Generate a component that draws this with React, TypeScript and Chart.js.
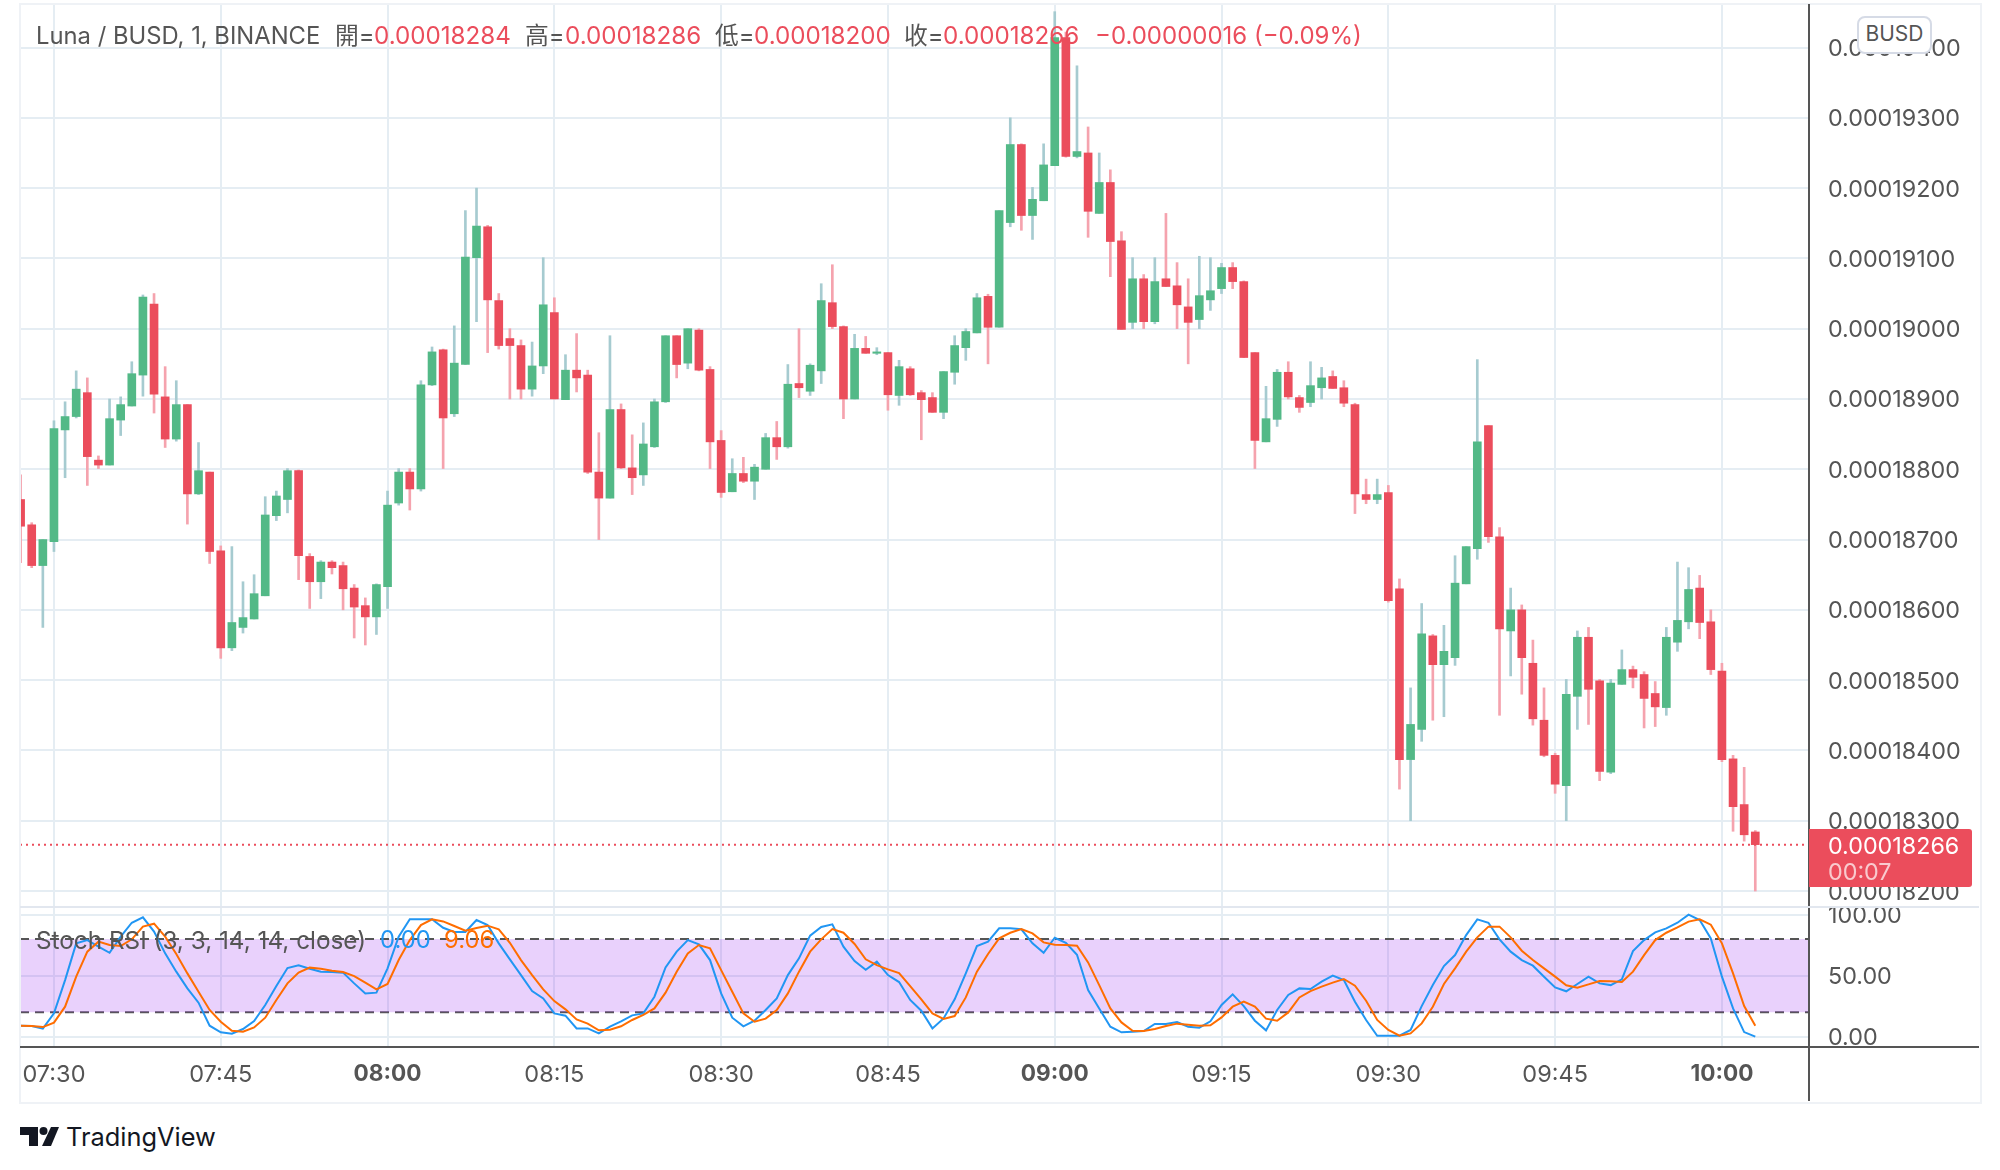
import { useEffect, useRef } from "react"
import { Chart, registerables } from "chart.js"

Chart.register(...registerables)

// prices are in units of 0.00000001 BUSD, one candle per minute from 07:27
const opens = [
  18757, 18721, 18663, 18697, 18856, 18875, 18909, 18813, 18806, 18870,
  18890, 18934, 19035, 18903, 18843, 18892, 18765, 18796, 18684, 18546,
  18575, 18587, 18620, 18734, 18757, 18798, 18676, 18640, 18668, 18663,
  18631, 18606, 18590, 18633, 18752, 18796, 18772, 18920, 18970, 18879,
  18949, 19101, 19145, 19040, 18986, 18976, 18914, 18947, 19023, 18899,
  18941, 18934, 18796, 18759, 18885, 18802, 18792, 18832, 18896, 18990,
  18951, 18998, 18942, 18841, 18768, 18794, 18783, 18800, 18845, 18832,
  18922, 18911, 18940, 19037, 19003, 18900, 18972, 18965, 18966, 18905,
  18943, 18909, 18902, 18881, 18938, 18973, 18994, 19046, 19002, 19151,
  19262, 19161, 19182, 19232, 19414, 19245, 19250, 19164, 19208, 19125,
  19009, 19071, 19010, 19071, 19061, 19031, 19013, 19041, 19057, 19087,
  19067, 18966, 18839, 18871, 18938, 18902, 18895, 18916, 18932, 18916,
  18892, 18764, 18757, 18767, 18630, 18387, 18430, 18563, 18522, 18532,
  18637, 18687, 18862, 18704, 18570, 18600, 18524, 18443, 18393, 18350,
  18477, 18561, 18499, 18369, 18494, 18515, 18508, 18481, 18461, 18554,
  18583, 18631, 18583, 18513, 18388, 18323, 18284,
]
const highs = [
  18792, 18724, 18700, 18869, 18896, 18940, 18930, 18819, 18900, 18903,
  18953, 19048, 19050, 18946, 18926, 18892, 18838, 18796, 18691, 18690,
  18640, 18650, 18761, 18769, 18801, 18799, 18680, 18670, 18670, 18668,
  18636, 18617, 18637, 18769, 18801, 18801, 18926, 18974, 18971, 19004,
  19168, 19200, 19147, 19050, 19000, 18984, 18981, 19101, 19044, 18963,
  18993, 18941, 18852, 18990, 18893, 18849, 18866, 18900, 18990, 18990,
  19000, 19000, 18946, 18855, 18815, 18817, 18807, 18851, 18868, 18949,
  19000, 18950, 19064, 19091, 19004, 18992, 18989, 18973, 18966, 18955,
  18946, 18912, 18909, 18939, 18990, 19000, 19050, 19049, 19168, 19300,
  19263, 19201, 19263, 19451, 19422, 19374, 19287, 19250, 19226, 19138,
  19101, 19077, 19101, 19164, 19094, 19071, 19103, 19101, 19093, 19094,
  19068, 18966, 18918, 18942, 18953, 18905, 18953, 18945, 18940, 18926,
  18894, 18786, 18786, 18777, 18644, 18489, 18609, 18565, 18578, 18677,
  18690, 18956, 18862, 18717, 18631, 18607, 18557, 18489, 18396, 18501,
  18570, 18575, 18501, 18501, 18543, 18520, 18512, 18498, 18575, 18668,
  18660, 18649, 18600, 18524, 18393, 18376, 18286,
]
const lows = [
  18667, 18660, 18575, 18683, 18788, 18873, 18777, 18801, 18806, 18848,
  18890, 18904, 18880, 18831, 18840, 18722, 18764, 18666, 18531, 18542,
  18567, 18587, 18620, 18727, 18738, 18643, 18602, 18616, 18651, 18600,
  18560, 18550, 18565, 18602, 18749, 18742, 18769, 18919, 18801, 18875,
  18949, 19010, 18966, 18971, 18900, 18900, 18904, 18936, 18900, 18899,
  18910, 18794, 18700, 18759, 18801, 18764, 18777, 18831, 18895, 18930,
  18943, 18940, 18801, 18760, 18768, 18781, 18757, 18800, 18814, 18830,
  18902, 18905, 18922, 19000, 18872, 18900, 18965, 18963, 18884, 18891,
  18905, 18842, 18881, 18872, 18921, 18955, 18994, 18950, 19002, 19145,
  19140, 19127, 19182, 19232, 19244, 19243, 19130, 19164, 19074, 18999,
  19000, 19000, 19007, 19060, 19000, 18950, 19000, 19026, 19050, 19057,
  18959, 18801, 18839, 18861, 18900, 18881, 18889, 18900, 18915, 18889,
  18737, 18751, 18751, 18611, 18345, 18300, 18413, 18443, 18448, 18521,
  18637, 18672, 18696, 18450, 18506, 18480, 18436, 18391, 18339, 18300,
  18430, 18437, 18357, 18367, 18494, 18489, 18432, 18434, 18450, 18541,
  18573, 18559, 18508, 18384, 18285, 18271, 18200,
]
const closes = [
  18719, 18663, 18700, 18858, 18875, 18914, 18818, 18806, 18872, 18892,
  18936, 19045, 18907, 18843, 18892, 18765, 18798, 18683, 18546, 18582,
  18589, 18623, 18735, 18762, 18798, 18677, 18640, 18668, 18660, 18630,
  18604, 18590, 18636, 18749, 18796, 18772, 18920, 18967, 18873, 18951,
  19102, 19146, 19041, 18976, 18976, 18914, 18947, 19034, 18900, 18941,
  18930, 18796, 18759, 18885, 18802, 18788, 18836, 18896, 18990, 18949,
  19000, 18941, 18839, 18767, 18794, 18783, 18803, 18845, 18832, 18921,
  18916, 18948, 19040, 19003, 18900, 18972, 18965, 18967, 18906, 18946,
  18906, 18899, 18881, 18939, 18976, 18996, 19044, 19002, 19168, 19262,
  19161, 19184, 19233, 19414, 19245, 19252, 19167, 19208, 19124, 18999,
  19071, 19010, 19067, 19060, 19034, 19009, 19047, 19054, 19087, 19067,
  18959, 18841, 18872, 18938, 18903, 18888, 18919, 18930, 18915, 18894,
  18765, 18757, 18764, 18613, 18387, 18437, 18566, 18522, 18541, 18638,
  18690, 18839, 18704, 18573, 18600, 18532, 18445, 18393, 18352, 18480,
  18561, 18487, 18370, 18496, 18515, 18504, 18474, 18462, 18561, 18585,
  18629, 18582, 18515, 18387, 18320, 18280, 18266,
]

const stochK = [
  9, 8.7, 6.6, 19.1, 46.4, 76.5, 79.2, 73.8, 68.8, 82,
  93.4, 97.8, 86.1, 68.3, 53.3, 39.6, 27.9, 9, 3.6, 2.5,
  6.3, 12.8, 26, 41.5, 56.3, 58.5, 55.7, 53.3, 53, 52.5,
  43.7, 35.5, 36.1, 56, 82, 96.2, 96.2, 96.2, 89.3, 85.8,
  85.8, 95.6, 91.5, 76.5, 63.4, 50.5, 37.4, 31.4, 19.1, 17.2,
  6.8, 6.8, 2.7, 8.2, 12.6, 17.5, 19.1, 32.8, 56.8, 69.7,
  79.2, 75.7, 62.8, 35.5, 15.6, 8.5, 13.1, 21.9, 31.4, 50.5,
  64.2, 82.8, 89.9, 92.1, 73.8, 62, 54.9, 61.5, 50.5, 44.8,
  30.1, 21.3, 6.8, 15, 30.6, 51.9, 74.3, 77.9, 88.8, 88.8,
  88, 76.5, 68.8, 81.1, 77, 67.2, 38.2, 23.2, 8.2, 3.6,
  4.1, 4.6, 10.4, 10.4, 12, 8.2, 7.4, 12.6, 26, 34.7,
  25.1, 13.1, 5.2, 21.9, 34.2, 39.6, 39.1, 45.1, 50, 46.4,
  28.7, 13.7, 0.8, 0.8, 0.8, 5.5, 25.1, 42.3, 57.9, 66.9,
  83.3, 96.2, 93.4, 79.8, 69.7, 62.8, 58.2, 49.2, 40.4, 37.2,
  43.2, 49.2, 43.7, 42.3, 47, 70.2, 79.2, 85.5, 88.8, 93.4,
  100, 95.6, 80.6, 49.2, 23.2, 3.8, 0,
]
const stochD = [
  9, 8.7, 7.9, 11.5, 24.6, 49.2, 69.7, 77.9, 75.1, 74.3,
  79.8, 90.2, 92.6, 82, 67.8, 51.9, 36.9, 21.9, 12.3, 4.9,
  4.1, 7.6, 15.6, 30.1, 43.7, 52.5, 56.6, 55.7, 54.1, 53,
  49.7, 44.3, 38.8, 43.2, 62.8, 79.2, 91.5, 96.2, 94.5, 90.7,
  86.9, 89.1, 91, 88, 77, 62.8, 50.5, 38.8, 29.2, 22.4,
  14.2, 10.7, 5.2, 5.7, 8.5, 13.7, 17.8, 23.2, 36.1, 53.3,
  68.3, 75.1, 72.4, 54.6, 36.9, 19.1, 12.3, 14.8, 21.9, 35.5,
  53.3, 69.7, 79.8, 88.2, 85.2, 76, 63.4, 58.7, 55.2, 52.2,
  41.5, 30.6, 19.1, 14.5, 16.9, 32.2, 53.3, 67.8, 80.6, 85.2,
  88.2, 84.7, 77.3, 75.4, 75.1, 74.6, 60.9, 42.3, 23.2, 11.7,
  4.9, 4.6, 6.3, 8.7, 10.7, 9.8, 9, 9.3, 15.8, 24.6,
  28.7, 24.6, 14.8, 13.1, 19.9, 32.2, 37.4, 41, 44.3, 47.3,
  41.8, 29.5, 13.7, 5.5, 0.8, 2.7, 10.9, 24.6, 43.2, 56,
  69.7, 81.4, 90.2, 90.2, 81.4, 70.5, 62.8, 56, 49.2, 42.1,
  40.2, 42.9, 45.6, 45.4, 44.8, 53.3, 66.9, 79.2, 85.2, 89.6,
  94.3, 96.2, 91.8, 76.5, 51.9, 25.1, 9.06,
]

const priceTicks = [18200, 18300, 18400, 18500, 18600, 18700, 18800, 18900, 19000, 19100, 19200, 19300, 19400]
const stochTicks = [0, 50, 100]
const timeTicks = [0, 15, 30, 45, 60, 75, 90, 105, 120, 135, 150]
const timeLabels = ["07:30", "07:45", "08:00", "08:15", "08:30", "08:45", "09:00", "09:15", "09:30", "09:45", "10:00"]
const boldTimes = ["08:00", "09:00", "10:00"]

const lastPrice = 18266
const upperBand = 80
const lowerBand = 20

const UP = "#53b987"
const DOWN = "#eb4d5c"
const UP_WICK = "#a6cbd0"
const DOWN_WICK = "#f5a3ae"
const GRID = "#e5edf3"
const TEXT = "#555555"
const FONT = "Inter, Roboto, sans-serif"
const CJK = 'Inter, "Noto Sans CJK TC", sans-serif'

// x is minutes after 07:30, first candle is at -3
const X_MIN = -3.054
const X_MAX = 157.83
const minute = (i: number) => i - 3

function timeScale(showLabels: boolean) {
  return {
    type: "linear" as const,
    min: X_MIN,
    max: X_MAX,
    offset: false,
    afterBuildTicks: (s: any) => {
      s.ticks = timeTicks.map((value) => ({ value }))
    },
    afterFit: (s: any) => {
      s.height = showLabels ? 54 : 0
      s.paddingLeft = 0
      s.paddingRight = 0
    },
    grid: { color: GRID, lineWidth: 2, drawTicks: false, offset: false },
    border: { display: false },
    ticks: {
      display: showLabels,
      padding: 14,
      maxRotation: 0,
      autoSkip: false,
      color: TEXT,
      callback: (value: any) => timeLabels[timeTicks.indexOf(value)],
      font: (ctx: any) => {
        const bold = boldTimes.includes(timeLabels[timeTicks.indexOf(ctx.tick?.value)])
        return { family: FONT, size: bold ? 22.6 : 23.5, weight: bold ? "bold" : "normal" }
      },
    },
  }
}

function valueScale(min: number, max: number, tickValues: number[], format: (v: number) => string) {
  return {
    position: "right" as const,
    min,
    max,
    afterBuildTicks: (s: any) => {
      s.ticks = tickValues.map((value) => ({ value }))
    },
    afterFit: (s: any) => {
      s.width = 170.5
      s.paddingTop = 0
      s.paddingBottom = 0
    },
    grid: { color: GRID, lineWidth: 2, drawTicks: false },
    border: { display: false },
    ticks: {
      padding: 19,
      labelOffset: 1.5,
      color: TEXT,
      autoSkip: false,
      font: { family: FONT, size: 23.3 },
      callback: (value: any) => format(value),
    },
  }
}

function Txt({ left, top, color, size = 23.8, children }: any) {
  return (
    <span
      style={{
        position: "absolute",
        left,
        top,
        color,
        fontSize: size,
        fontFamily: CJK,
        lineHeight: "30px",
        whiteSpace: "nowrap",
      }}
    >
      {children}
    </span>
  )
}

export default function App() {
  const priceRef = useRef<HTMLCanvasElement>(null)
  const stochRef = useRef<HTMLCanvasElement>(null)

  useEffect(() => {
    if (!priceRef.current || !stochRef.current) return

    const candleColors = closes.map((c, i) => (c >= opens[i] ? UP : DOWN))
    const wickColors = closes.map((c, i) => (c >= opens[i] ? UP_WICK : DOWN_WICK))

    const priceChart = new Chart(priceRef.current, {
      type: "bar",
      data: {
        datasets: [
          {
            type: "line",
            data: [
              { x: X_MIN, y: lastPrice },
              { x: X_MAX, y: lastPrice },
            ],
            borderColor: DOWN,
            borderWidth: 2,
            borderDash: [2, 4],
            pointRadius: 0,
            order: 0,
          },
          {
            data: closes.map((c, i) => ({ x: minute(i), y: [opens[i], c] })),
            backgroundColor: candleColors,
            barThickness: 8,
            grouped: false,
            order: 1,
          },
          {
            data: highs.map((h, i) => ({ x: minute(i), y: [lows[i], h] })),
            backgroundColor: wickColors,
            barThickness: 2,
            grouped: false,
            order: 2,
          },
        ] as any,
      },
      options: {
        animation: false,
        responsive: false,
        layout: { padding: { left: 20, top: 5, right: 20.5, bottom: 1 } },
        plugins: { legend: { display: false }, tooltip: { enabled: false } },
        scales: {
          x: timeScale(false),
          y: valueScale(18178.7, 19460.5, priceTicks, (v) => (v / 1e8).toFixed(8)),
        } as any,
      },
    })

    const stochChart = new Chart(stochRef.current, {
      type: "line",
      data: {
        datasets: [
          {
            data: stochK.map((y, i) => ({ x: minute(i), y })),
            borderColor: "#2196f3",
            borderWidth: 2,
            pointRadius: 0,
            order: 1,
          },
          {
            data: stochD.map((y, i) => ({ x: minute(i), y })),
            borderColor: "#ff6d00",
            borderWidth: 2,
            pointRadius: 0,
            order: 0,
          },
          {
            data: [
              { x: X_MIN, y: upperBand },
              { x: X_MAX, y: upperBand },
            ],
            borderColor: TEXT,
            borderWidth: 2,
            borderDash: [9, 6],
            pointRadius: 0,
            fill: "+1",
            backgroundColor: "rgba(145, 25, 240, 0.2)",
            order: 2,
          },
          {
            data: [
              { x: X_MIN, y: lowerBand },
              { x: X_MAX, y: lowerBand },
            ],
            borderColor: TEXT,
            borderWidth: 2,
            borderDash: [9, 6],
            pointRadius: 0,
            order: 3,
          },
        ] as any,
      },
      options: {
        animation: false,
        responsive: false,
        layout: { padding: { left: 20, top: 0, right: 20.5, bottom: 0 } },
        plugins: { legend: { display: false }, tooltip: { enabled: false } },
        scales: {
          x: timeScale(true),
          y: valueScale(-8.44, 106.3, stochTicks, (v) => v.toFixed(2)),
        } as any,
      },
    })

    return () => {
      priceChart.destroy()
      stochChart.destroy()
    }
  }, [])

  return (
    <div style={{ position: "absolute", left: 0, top: 0, width: 2000, height: 1170, background: "#fff", overflow: "hidden" }}>
      <canvas ref={priceRef} width={2000} height={907} style={{ position: "absolute", left: 0, top: 0 }} />
      <canvas ref={stochRef} width={2000} height={194} style={{ position: "absolute", left: 0, top: 907 }} />

      {/* frame and pane lines */}
      <div style={{ position: "absolute", left: 19, top: 3, width: 1959, height: 1097, border: "2px solid #eff2f6" }} />
      <div style={{ position: "absolute", left: 1808, top: 4, width: 2, height: 1097, background: "#555" }} />
      <div style={{ position: "absolute", left: 20, top: 906, width: 1959, height: 2, background: "#e2e7ef" }} />
      <div style={{ position: "absolute", left: 20, top: 1046, width: 1959, height: 2, background: "#555" }} />

      {/* symbol line */}
      <Txt left={36} top={21} color={TEXT}>Luna / BUSD, 1, BINANCE</Txt>
      <Txt left={335} top={21} color={TEXT}>開=</Txt>
      <Txt left={374} top={21} color={DOWN} size={24.2}>0.00018284</Txt>
      <Txt left={525} top={21} color={TEXT}>高=</Txt>
      <Txt left={565} top={21} color={DOWN} size={24.2}>0.00018286</Txt>
      <Txt left={715} top={21} color={TEXT}>低=</Txt>
      <Txt left={754} top={21} color={DOWN} size={24.2}>0.00018200</Txt>
      <Txt left={904} top={21} color={TEXT}>收=</Txt>
      <Txt left={943} top={21} color={DOWN} size={24.2}>0.00018266</Txt>
      <Txt left={1095} top={21} color={DOWN} size={24}>−0.00000016 (−0.09%)</Txt>

      {/* indicator line */}
      <Txt left={36} top={925} color={TEXT} size={24.3}>Stoch RSI (3, 3, 14, 14, close)</Txt>
      <Txt left={380} top={925} color="#2196f3">0.00</Txt>
      <Txt left={444} top={925} color="#ff6d00">9.06</Txt>

      {/* currency badge */}
      <div
        style={{
          position: "absolute",
          left: 1857,
          top: 16,
          width: 71,
          height: 34,
          border: "2px solid #d6dbe6",
          borderRadius: 8,
          background: "#fff",
          color: TEXT,
          fontFamily: FONT,
          fontSize: 21,
          lineHeight: "32px",
          textAlign: "center",
        }}
      >
        BUSD
      </div>

      {/* last price tag */}
      <div
        style={{
          position: "absolute",
          left: 1809,
          top: 829,
          width: 163,
          height: 58,
          background: DOWN,
          borderRadius: "0 3px 3px 0",
          fontFamily: FONT,
          fontSize: 23.3,
        }}
      >
        <span style={{ position: "absolute", left: 19, top: 2, lineHeight: "30px", color: "#fff" }}>0.00018266</span>
        <span style={{ position: "absolute", left: 19, top: 28, lineHeight: "30px", color: "rgba(255,255,255,0.7)" }}>00:07</span>
      </div>

      {/* logo */}
      <svg style={{ position: "absolute", left: 20, top: 1127 }} width={40} height={20} viewBox="0 0 40 20">
        <path d="M0 0H18V19H9V8H0Z" fill="#131722" />
        <circle cx={23.5} cy={4} r={4} fill="#131722" />
        <path d="M31 0H39L31 19H22Z" fill="#131722" />
      </svg>
      <span style={{ position: "absolute", left: 66, top: 1122, fontFamily: FONT, fontSize: 25.4, lineHeight: "30px", color: "#131722" }}>
        TradingView
      </span>
    </div>
  )
}
